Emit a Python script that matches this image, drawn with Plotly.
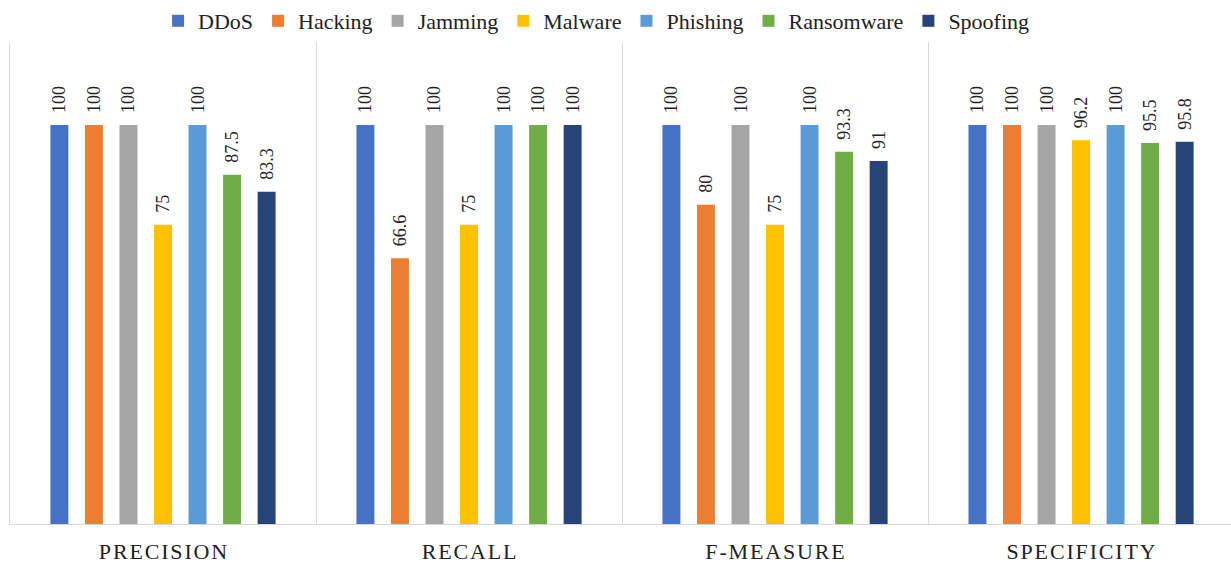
import plotly.graph_objects as go

# Evaluation metrics (x-axis groups)
metrics = ["PRECISION", "RECALL", "F-MEASURE", "SPECIFICITY"]

# Attack classes and their scores (%) per metric
ddos = [100, 100, 100, 100]
hacking = [100, 66.6, 80, 100]
jamming = [100, 100, 100, 100]
malware = [75, 75, 75, 96.2]
phishing = [100, 100, 100, 100]
ransomware = [87.5, 100, 93.3, 95.5]
spoofing = [83.3, 100, 91, 95.8]

series = [
    ("DDoS", ddos, "#4472C4"),
    ("Hacking", hacking, "#ED7D31"),
    ("Jamming", jamming, "#A5A5A5"),
    ("Malware", malware, "#FFC000"),
    ("Phishing", phishing, "#5B9BD5"),
    ("Ransomware", ransomware, "#70AD47"),
    ("Spoofing", spoofing, "#264478"),
]

SERIF = "Liberation Serif"

fig = go.Figure()
for name, vals, color in series:
    fig.add_trace(go.Bar(
        name=name,
        x=metrics,
        y=vals,
        marker=dict(color=color, line=dict(width=0)),
        text=[f"\u00a0\u00a0{v:g}" for v in vals],
        textposition="outside",
        textangle=-90,
        constraintext="none",
        textfont=dict(family=SERIF, size=18, color="#222222"),
        cliponaxis=False,
    ))

# letter-spaced category labels
spaced = ["\u200a".join(m) for m in metrics]

fig.update_layout(
    width=1231,
    height=562,
    margin=dict(l=10, r=0, t=42, b=38),
    paper_bgcolor="white",
    plot_bgcolor="white",
    font=dict(family=SERIF),
    barmode="group",
    bargap=0.21,
    bargroupgap=0.48,
    legend=dict(
        orientation="h",
        x=0.48, xanchor="center",
        y=1.0, yanchor="bottom",
        font=dict(family=SERIF, size=22, color="#222222"),
        itemwidth=30,
        tracegroupgap=0,
    ),
    xaxis=dict(
        type="category",
        range=[-0.5, 3.49],
        tickmode="array",
        tickvals=metrics,
        ticktext=spaced,
        tickson="boundaries",
        ticks="",
        showgrid=True,
        gridcolor="#D9D9D9",
        gridwidth=1,
        showline=True,
        linecolor="#D9D9D9",
        linewidth=1,
        tickfont=dict(family=SERIF, size=22, color="#222222"),
        ticklabelstandoff=8,
        automargin=False,
    ),
    yaxis=dict(
        range=[0, 120.8],
        showticklabels=False,
        showgrid=False,
        zeroline=False,
        ticks="",
        showline=True,
        linecolor="#D9D9D9",
        linewidth=1,
        automargin=False,
    ),
)

fig.write_html("out.html")
